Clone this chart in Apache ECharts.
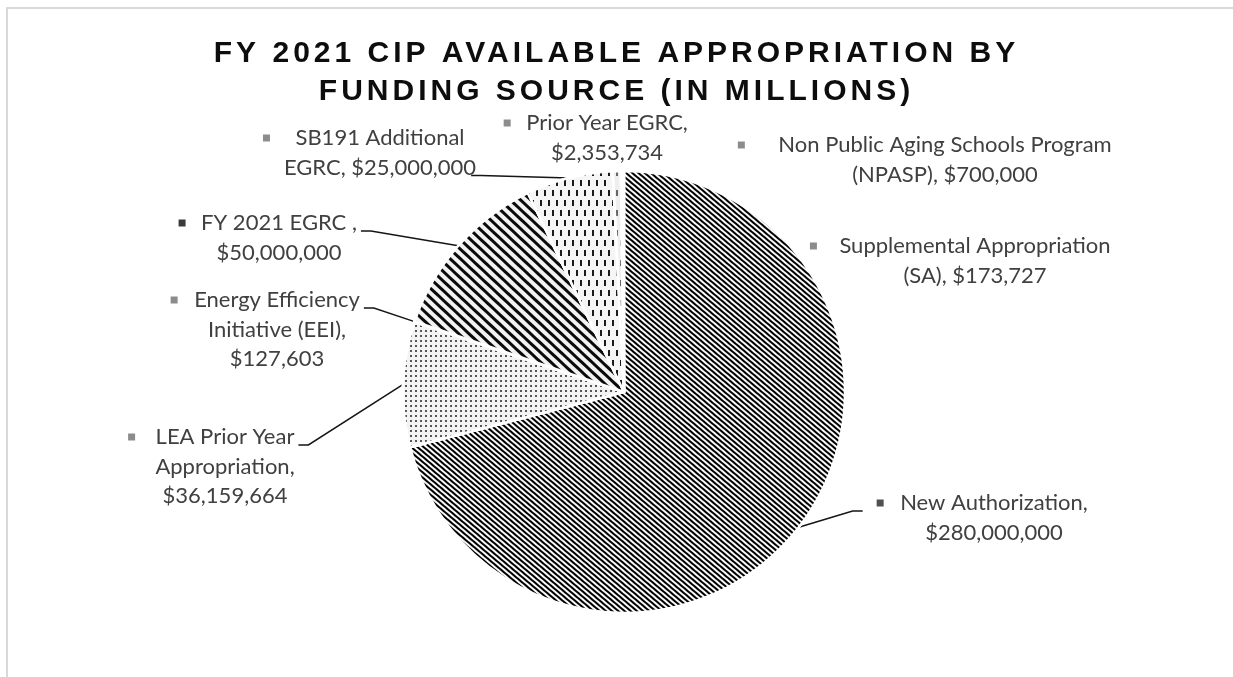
<!DOCTYPE html>
<html><head><meta charset="utf-8">
<script src="https://cdn.jsdelivr.net/npm/echarts@6/dist/echarts.min.js"></script>
<style>
html,body{margin:0;padding:0;background:#fff;}
#wrap{position:relative;width:1233px;height:677px;overflow:hidden;}
#c{width:1233px;height:677px;}
#frame{position:absolute;left:6px;top:7px;width:1300px;height:700px;border-left:2px solid #d9d9d9;border-top:2px solid #d9d9d9;pointer-events:none;}
</style>
</head><body>
<div id="wrap"><div id="c"></div><div id="frame"></div></div>
<script>
// ---- data ----
const categories = ['New Authorization', 'LEA Prior Year\nAppropriation', 'Energy Efficiency\nInitiative (EEI)', 'FY 2021 EGRC ', 'SB191 Additional\nEGRC', 'Prior Year EGRC', 'Non Public Aging Schools Program\n(NPASP)', 'Supplemental Appropriation\n(SA)'];
const values = [280000000, 36159664, 127603, 50000000, 25000000, 2353734, 700000, 173727];
const valueOnNewLine = [true, true, true, true, false, true, false, false];
const titleText = 'FY 2021 CIP AVAILABLE APPROPRIATION BY\nFUNDING SOURCE (IN MILLIONS)';

// ---- label placement (layout, not data) ----
// cx: label centre x, y: first line centre y, gap: marker centre to text start, line: leader side, row: row the leader starts from
const labelPlace = [
  {cx: 994, y: 503, gap: 20, line: 'left', row: 0},
  {cx: 225, y: 437, gap: 24, line: 'right', row: 0},
  {cx: 277, y: 300, gap: 20, line: 'right', row: 0},
  {cx: 279, y: 223, gap: 19, line: 'right', row: 0},
  {cx: 380, y: 138, gap: 29, line: 'right', row: 1},
  {cx: 607, y: 123, gap: 19, line: null, row: 0},
  {cx: 945, y: 145, gap: 37, line: null, row: 0},
  {cx: 975, y: 246, gap: 26, line: null, row: 0}
];

// ---- styles ----
const sliceColors = ['#fafafa', '#f3f3f3', '#efefef', '#f2f2f2', '#f5f5f5', '#eeeeee', '#e6e6e6', '#e6e6e6'];
const markerColors = ['#505050', '#8c8c8c', '#8c8c8c', '#3a3a3a', '#8c8c8c', '#8c8c8c', '#8c8c8c', '#8c8c8c'];
const decals = [
  {symbol: 'rect', symbolSize: 1, dashArrayX: [1, 0], dashArrayY: [2, 2], rotation: 0.7, color: '#000000'},
  {symbol: 'rect', symbolSize: 1, dashArrayX: [2, 3], dashArrayY: [2, 3], rotation: 0, color: '#555555'},
  {symbol: 'rect', symbolSize: 1, dashArrayX: [2, 3], dashArrayY: [2, 3], rotation: 0, color: '#666666'},
  {symbol: 'rect', symbolSize: 1, dashArrayX: [1, 0], dashArrayY: [3, 4], rotation: 0.75, color: '#0a0a0a'},
  {symbol: 'rect', symbolSize: 1, dashArrayX: [[2, 6], [0, 4, 2, 2]], dashArrayY: [6, 4], rotation: 0, color: '#1a1a1a'},
  {symbol: 'rect', symbolSize: 1, dashArrayX: [[2, 6], [0, 4, 2, 2]], dashArrayY: [6, 4], rotation: 0, color: '#666666'},
  {symbol: 'rect', symbolSize: 1, dashArrayX: [1, 0], dashArrayY: [1, 2], rotation: 0, color: '#999999'},
  {symbol: 'rect', symbolSize: 1, dashArrayX: [1, 0], dashArrayY: [1, 2], rotation: 0, color: '#999999'}
];

const LABEL_FONT = 'Lato';
const LABEL_SIZE = 22;
const LINE_H = 29.5;

// letter-spaced bold title (Excel style)
(function () {
  const ft = CanvasRenderingContext2D.prototype.fillText;
  CanvasRenderingContext2D.prototype.fillText = function (t, x, y, mw) {
    if ('letterSpacing' in this && /bold/.test(this.font) && /30px/.test(this.font)) {
      const prev = this.letterSpacing;
      this.letterSpacing = '4px';
      const r = (mw === undefined) ? ft.call(this, t, x, y) : ft.call(this, t, x, y, mw);
      this.letterSpacing = prev;
      return r;
    }
    return (mw === undefined) ? ft.call(this, t, x, y) : ft.call(this, t, x, y, mw);
  };
})();

const mctx = document.createElement('canvas').getContext('2d');
function textWidth(s) { mctx.font = LABEL_SIZE + 'px ' + LABEL_FONT; return mctx.measureText(s).width; }
function money(v) { return '$' + v.toLocaleString('en-US'); }
function labelLines(i) {
  const full = categories[i] + ',' + (valueOnNewLine[i] ? '\n' : ' ') + money(values[i]);
  return full.split('\n');
}

const tStyle = {fontFamily: LABEL_FONT, fontSize: LABEL_SIZE, lineHeight: LINE_H, color: '#404040'};

const data = categories.map(function (name, i) {
  const g = labelPlace[i].gap;
  return {
    name: name,
    value: values[i],
    itemStyle: {color: sliceColors[i], decal: decals[i]},
    label: {
      rich: {
        t: tStyle,
        m: {width: 7, height: 7, backgroundColor: markerColors[i], lineHeight: LINE_H},
        a: {width: g - 3.5, lineHeight: LINE_H},
        b: {width: g + 3.5, lineHeight: LINE_H}
      }
    },
    labelLine: {show: !!labelPlace[i].line}
  };
});

const chart = echarts.init(document.getElementById('c'), null, {renderer: 'canvas'});
chart.setOption({
  backgroundColor: '#ffffff',
  animation: false,
  title: {
    text: titleText,
    left: 'center',
    top: 35,
    padding: 0,
    textStyle: {fontFamily: 'Liberation Sans', fontWeight: 'bold', fontSize: 30, lineHeight: 38, color: '#0d0d0d'}
  },
  series: [{
    type: 'pie',
    center: [624, 392],
    radius: 221,
    startAngle: 90,
    clockwise: true,
    avoidLabelOverlap: false,
    selectedMode: false,
    emphasis: {disabled: true},
    itemStyle: {borderColor: '#ffffff', borderWidth: 2.5},
    label: {
      show: true,
      position: 'outside',
      align: 'center',
      formatter: function (p) {
        const lines = labelLines(p.dataIndex);
        return lines.map(function (s, k) {
          return k === 0 ? '{m|}{a|}{t|' + s + '}{b|}' : '{t|' + s + '}';
        }).join('\n');
      }
    },
    labelLine: {show: true, lineStyle: {color: '#151515', width: 1.5}},
    labelLayout: function (p) {
      const i = p.dataIndex;
      const L = labelPlace[i];
      const res = {x: L.cx, y: L.y - LINE_H / 2, align: 'center', verticalAlign: 'top', hideOverlap: false};
      if (L.line && p.labelLinePoints) {
        const a = p.labelLinePoints[0];
        const lines = labelLines(i);
        const w = textWidth(lines[L.row]);
        const ry = L.y + L.row * LINE_H + 8;
        let sx, ex;
        if (L.line === 'right') {
          sx = L.cx + w / 2 + (L.row > 0 ? -5 : 4);
          ex = sx + 10;
        } else {
          sx = L.cx - w / 2 - L.gap - 3.5 - 14;
          ex = sx - 10;
        }
        res.labelLinePoints = [[a[0], a[1]], [ex, ry], [sx, ry]];
      }
      return res;
    },
    data: data
  }]
});
</script>
</body></html>
